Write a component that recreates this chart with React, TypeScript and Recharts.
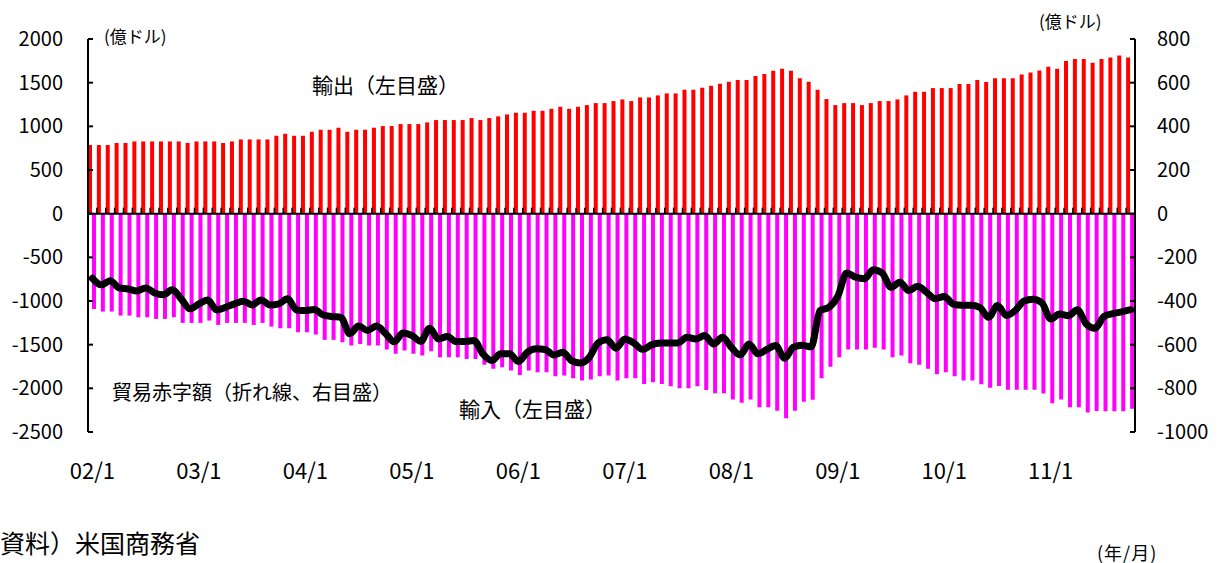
import React from 'react'
import { ComposedChart, Bar, Line, XAxis, YAxis, ReferenceLine } from 'recharts'

// 2002/1 - 2011/10, monthly (億ドル)
const YEARS = ['02', '03', '04', '05', '06', '07', '08', '09', '10', '11']
const MONTHS = [1, 2, 3, 4, 5, 6, 7, 8, 9, 10, 11, 12]
const CATEGORIES = YEARS.flatMap((y) => MONTHS.map((m) => `${y}/${m}`)).slice(0, 118)

const EXPORTS = [
  786, 786, 786, 809, 809, 827, 827, 827, 827, 827, 827, 809,
  827, 827, 827, 809, 827, 850, 850, 850, 850, 892, 915, 892,
  892, 938, 961, 961, 984, 938, 961, 961, 984, 1003, 1003, 1026,
  1026, 1026, 1045, 1072, 1072, 1072, 1072, 1095, 1072, 1095, 1114, 1136,
  1156, 1156, 1178, 1178, 1201, 1224, 1201, 1224, 1243, 1266, 1266, 1289,
  1308, 1289, 1331, 1331, 1354, 1377, 1377, 1419, 1419, 1442, 1465, 1487,
  1510, 1530, 1530, 1575, 1598, 1636, 1659, 1636, 1552, 1510, 1419, 1312,
  1243, 1266, 1266, 1243, 1266, 1289, 1289, 1308, 1354, 1396, 1396, 1438,
  1438, 1438, 1484, 1484, 1530, 1507, 1552, 1552, 1552, 1594, 1617, 1640,
  1682, 1659, 1747, 1770, 1770, 1728, 1770, 1789, 1812, 1789,
]

const IMPORTS = [
  -1091, -1121, -1121, -1167, -1167, -1186, -1186, -1205, -1205, -1186, -1251, -1251,
  -1251, -1224, -1274, -1251, -1251, -1251, -1274, -1251, -1293, -1312, -1312, -1358,
  -1358, -1384, -1445, -1445, -1472, -1510, -1491, -1510, -1510, -1556, -1605, -1567,
  -1605, -1625, -1575, -1644, -1644, -1644, -1663, -1663, -1731, -1777, -1758, -1796,
  -1846, -1796, -1815, -1815, -1861, -1854, -1884, -1911, -1899, -1861, -1854, -1911,
  -1884, -1884, -1949, -1930, -1949, -1976, -1999, -1999, -1976, -2018, -2056, -2056,
  -2128, -2166, -2128, -2216, -2216, -2258, -2342, -2258, -2153, -2130, -1884, -1754,
  -1644, -1556, -1556, -1556, -1535, -1556, -1644, -1625, -1713, -1731, -1777, -1840,
  -1815, -1861, -1911, -1911, -1953, -1994, -1972, -2017, -2017, -2017, -2017, -2060,
  -2170, -2128, -2216, -2216, -2276, -2260, -2262, -2262, -2262, -2235,
]

const DEFICIT = [
  -296, -326, -307, -340, -345, -354, -340, -363, -371, -349, -390, -436,
  -413, -395, -441, -429, -413, -401, -418, -395, -418, -413, -390, -441,
  -444, -439, -464, -471, -475, -550, -515, -535, -515, -547, -587, -547,
  -558, -585, -525, -574, -563, -586, -586, -581, -642, -673, -642, -642,
  -677, -635, -619, -622, -647, -635, -673, -684, -658, -592, -578, -616,
  -574, -592, -622, -601, -592, -592, -592, -566, -574, -558, -597, -566,
  -612, -647, -597, -642, -622, -604, -662, -612, -603, -610, -444, -429,
  -379, -272, -291, -298, -257, -272, -337, -314, -352, -332, -360, -390,
  -379, -414, -420, -420, -429, -475, -421, -466, -444, -400, -392, -408,
  -482, -460, -468, -440, -505, -525, -471, -458, -450, -440,
]

const LEFT_TICKS = [2000, 1500, 1000, 500, 0, -500, -1000, -1500, -2000, -2500]
const RIGHT_TICKS = [800, 600, 400, 200, 0, -200, -400, -600, -800, -1000]

const data = CATEGORIES.map((month, i) => ({
  month,
  exports: EXPORTS[i],
  imports: IMPORTS[i],
  deficit: DEFICIT[i],
}))

const FONT = "'Noto Sans CJK JP', 'Noto Sans', sans-serif"

// zero line of the left scale, with a small tick between every month
const ZeroAxis = (props: any) => {
  const { x1, y1, x2, y2 } = props
  if (x1 == null || y1 == null) return null
  const n = CATEGORIES.length
  const step = (x2 - x1) / n
  const marks = []
  for (let k = 1; k < n; k++) {
    const x = x1 + k * step
    marks.push(<line key={k} x1={x} x2={x} y1={y1} y2={y1 - 6} stroke="#000" strokeWidth={1.5} />)
  }
  return (
    <g>
      <line x1={x1} y1={y1} x2={x2} y2={y2} stroke="#000" strokeWidth={2} />
      {marks}
    </g>
  )
}

const note = (text: string, left: number, top: number, size: number, extra: any = {}) => (
  <div
    style={{
      position: 'absolute',
      left,
      top,
      fontSize: size,
      fontFamily: FONT,
      lineHeight: 1,
      whiteSpace: 'nowrap',
      color: '#000',
      ...extra,
    }}
  >
    {text}
  </div>
)

export default function App() {
  const tickStyle = { fontSize: 20, fill: '#000', fontFamily: FONT }
  return (
    <div style={{ position: 'absolute', left: 0, top: 0, width: 1224, height: 563, background: '#fff' }}>
      <ComposedChart
        width={1224}
        height={563}
        data={data}
        margin={{ top: 39, right: 0, bottom: 0, left: 0 }}
        barCategoryGap={0}
        barGap={0}
      >
        <XAxis
          dataKey="month"
          interval={11}
          axisLine={false}
          tickLine={false}
          tickSize={0}
          tickMargin={31}
          height={131}
          tick={{ fontSize: 22, fill: '#000', fontFamily: FONT }}
        />
        <YAxis
          yAxisId="left"
          orientation="left"
          width={88}
          domain={[-2500, 2000]}
          ticks={LEFT_TICKS}
          interval={0}
          tickSize={-5}
          tickMargin={30}
          axisLine={{ stroke: '#000', strokeWidth: 2 }}
          tickLine={{ stroke: '#000', strokeWidth: 2 }}
          tick={tickStyle}
        />
        <YAxis
          yAxisId="right"
          orientation="right"
          width={89}
          domain={[-1000, 800]}
          ticks={RIGHT_TICKS}
          interval={0}
          tickSize={-5}
          tickMargin={27}
          axisLine={{ stroke: '#000', strokeWidth: 2 }}
          tickLine={{ stroke: '#000', strokeWidth: 2 }}
          tick={tickStyle}
        />
        <Bar yAxisId="left" dataKey="exports" fill="#ff0000" isAnimationActive={false} />
        <Bar yAxisId="left" dataKey="imports" fill="#ff00ff" isAnimationActive={false} />
        <ReferenceLine yAxisId="left" y={0} shape={ZeroAxis} />
        <Line
          yAxisId="right"
          dataKey="deficit"
          type="monotone"
          stroke="#000"
          strokeWidth={7}
          strokeLinejoin="round"
          strokeLinecap="round"
          dot={false}
          activeDot={false}
          isAnimationActive={false}
        />
      </ComposedChart>

      {note('(億ドル)', 104, 27, 17)}
      {note('(億ドル)', 1039, 12, 17)}
      {note('輸出（左目盛）', 312, 74, 21)}
      {note('貿易赤字額（折れ線、右目盛）', 112, 382, 20)}
      {note('輸入（左目盛）', 459, 398, 21)}
      {note('資料）米国商務省', 0, 530, 25)}
      {note('(年/月)', 1097, 543, 18, { letterSpacing: 1 })}
    </div>
  )
}
